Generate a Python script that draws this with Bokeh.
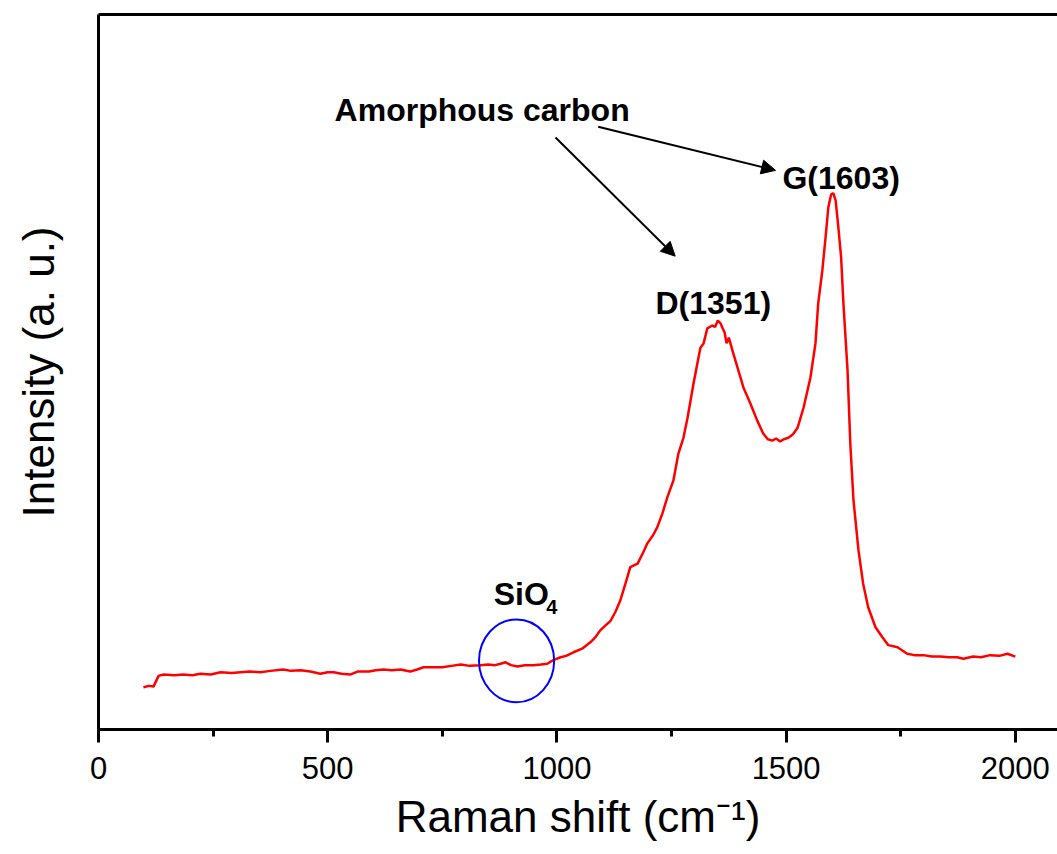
from bokeh.embed import file_html
from bokeh.models import (Arrow, FixedTicker, Label, LinearAxis, NormalHead,
                          Range1d, SingleIntervalTicker)
from bokeh.plotting import figure
from bokeh.resources import INLINE

# Raman spectrum (cm^-1, arbitrary intensity units)
raman_shift = [
    98, 110, 120, 131, 142, 165, 185, 205, 222, 245, 266, 290, 310, 330, 353,
    375, 403, 420, 441, 462, 484, 500, 513, 530, 550, 565, 590, 605, 622, 640,
    659, 680, 695, 709, 731, 750, 770, 790, 810, 833, 850, 865, 877, 888, 900,
    914, 930, 949, 965, 979, 992, 1008, 1020, 1036, 1055, 1073, 1085, 1095,
    1105, 1117, 1128, 1138, 1150, 1160, 1176, 1190, 1197, 1210, 1219, 1230,
    1241, 1254, 1265, 1276, 1285, 1298, 1313, 1320, 1328, 1339, 1345, 1351,
    1357, 1361, 1366, 1370, 1375, 1383, 1394, 1407, 1422, 1437, 1450, 1460,
    1470, 1478, 1487, 1495, 1505, 1515, 1525, 1538, 1553, 1564, 1570, 1579,
    1586, 1592, 1598, 1603, 1608, 1614, 1620, 1625, 1634, 1640, 1647, 1658,
    1668, 1679, 1695, 1710, 1723, 1743, 1764, 1780, 1799, 1818, 1836, 1855,
    1873, 1887, 1908, 1925, 1945, 1965, 1983, 2000,
]
intensity = [
    59, 61, 60, 75, 77, 76, 77, 76, 78, 77, 80, 79, 80, 81, 80,
    82, 84, 82, 83, 81, 78, 80, 80, 78, 77, 81, 81, 83, 84, 83,
    84, 81, 84, 87, 87, 87, 89, 91, 89, 90, 91, 90, 92, 94, 90,
    88, 90, 90, 91, 92, 97, 101, 103, 108, 113, 122, 130, 139,
    145, 152, 165, 180, 205, 227, 232, 250, 260, 272, 283, 302,
    325, 348, 386, 408, 436, 484, 534, 540, 561, 565, 563, 572,
    568, 562, 555, 540, 548, 530, 506, 478, 456, 432, 414, 406,
    404, 407, 403, 406, 408, 413, 422, 450, 492, 540, 596, 642,
    688, 730, 748, 750, 740, 702, 660, 596, 502, 400, 320, 250,
    204, 171, 143, 129, 118, 115, 106, 104, 104, 102, 102, 101,
    101, 99, 102, 101, 104, 103, 106, 102,
]

x_ticks_interval = 500
d_band = 1351
g_band = 1603

FONT = "Liberation Sans"

p = figure(
    width=1057, height=854,
    output_backend="svg", toolbar_location=None,
    x_range=Range1d(0, 2092), y_range=Range1d(0, 1000),
    x_axis_location=None, y_axis_location=None,
    min_border_left=98, min_border_right=0,
    min_border_top=14, min_border_bottom=125,
)
p.outline_line_color = None
p.background_fill_color = "white"
p.border_fill_color = "white"
p.xgrid.grid_line_color = None
p.ygrid.grid_line_color = None

# bottom axis with outward ticks and its title
xa = LinearAxis(
    ticker=SingleIntervalTicker(interval=x_ticks_interval, num_minor_ticks=2),
    axis_line_width=3, axis_line_color="black",
    major_tick_line_width=3, minor_tick_line_width=3,
    major_tick_out=13, major_tick_in=0,
    minor_tick_out=7, minor_tick_in=0,
    major_label_text_font=FONT, major_label_text_font_size="31px",
    major_label_text_color="black", major_label_standoff=14,
    axis_label="Raman shift (cm\u207b\u00b9)",
    axis_label_text_font=FONT, axis_label_text_font_size="44px",
    axis_label_text_font_style="normal", axis_label_text_color="black",
    axis_label_standoff=10,
)
p.add_layout(xa, "below")


def bare_axis(**kw):
    return LinearAxis(
        ticker=FixedTicker(ticks=[]),
        axis_line_width=3, axis_line_color="black",
        major_tick_out=0, major_tick_in=0,
        minor_tick_out=0, minor_tick_in=0,
        major_label_standoff=0,
        major_label_text_font_size="0px",
        **kw,
    )


ya = bare_axis(
    axis_label="Intensity (a. u.)",
    axis_label_text_font=FONT, axis_label_text_font_size="44px",
    axis_label_text_font_style="normal", axis_label_text_color="black",
    axis_label_standoff=36,
)
p.add_layout(ya, "left")
p.add_layout(bare_axis(axis_label_standoff=0), "above")

# spectrum
p.line(raman_shift, intensity, line_color="#ff0000", line_width=2.5)

# SiO4 marker ring
p.ellipse(x=[912], y=[96], width=[164], height=[116],
          fill_color=None, line_color="#0000ff", line_width=2)


def text(x, y, s, size):
    p.add_layout(Label(
        x=x, y=y, text=s, text_font=FONT, text_font_size=size,
        text_font_style="bold", text_color="black",
        text_baseline="alphabetic", text_align="left"))


text(515, 866, "Amorphous carbon", "32px")
text(1492, 771, f"G({g_band})", "32px")
text(1215, 597, f"D({d_band})", "32px")
text(862, 190, "SiO", "32px")
text(977, 172, "4", "20px")

# arrows from the carbon label to both bands
for xs, ys, xe, ye in [(997, 828, 1258, 662), (1090, 843, 1477, 782)]:
    p.add_layout(Arrow(
        end=NormalHead(size=14, fill_color="black", line_color="black"),
        x_start=xs, y_start=ys, x_end=xe, y_end=ye,
        line_color="black", line_width=2))

open("out.html", "w").write(file_html(p, INLINE))
